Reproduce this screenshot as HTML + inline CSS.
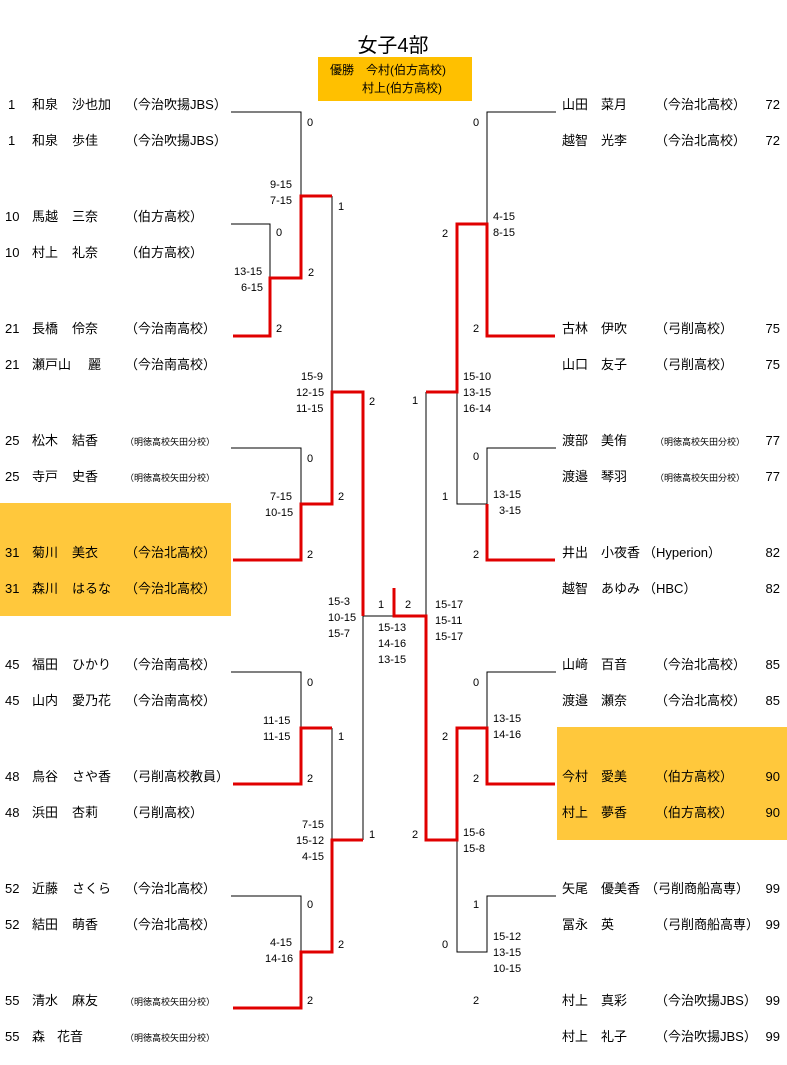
<!DOCTYPE html>
<html><head><meta charset="utf-8"><style>
body{margin:0;background:#fff;}
svg{display:block;font-family:"Liberation Sans","Noto Sans CJK JP",sans-serif;}
.n{font-size:13px;fill:#000}
.s{font-size:11px;fill:#000}
.k{stroke:#000;stroke-width:1;fill:none}
.r{stroke:#e00000;stroke-width:3;fill:none}
</style></head><body>
<svg width="787" height="1065" viewBox="0 0 787 1065">
<rect x="0" y="503" width="231" height="113" fill="#ffc83c"/>
<rect x="557" y="727" width="230" height="113" fill="#ffc83c"/>
<text x="393" y="52" font-size="20" text-anchor="middle">女子4部</text>
<rect x="318" y="57" width="154" height="44" fill="#ffc000"/>
<text x="330" y="74" font-size="12">優勝　今村(伯方高校)</text>
<text x="362" y="92" font-size="12">村上(伯方高校)</text>

<!-- left names -->
<g class="n">
<text x="8" y="109">1</text><text x="32" y="109">和泉</text><text x="72" y="109">沙也加</text><text x="125" y="109">（今治吹揚JBS）</text>
<text x="8" y="145">1</text><text x="32" y="145">和泉</text><text x="72" y="145">歩佳</text><text x="125" y="145">（今治吹揚JBS）</text>
<text x="5" y="221">10</text><text x="32" y="221">馬越</text><text x="72" y="221">三奈</text><text x="125" y="221">（伯方高校）</text>
<text x="5" y="257">10</text><text x="32" y="257">村上</text><text x="72" y="257">礼奈</text><text x="125" y="257">（伯方高校）</text>
<text x="5" y="333">21</text><text x="32" y="333">長橋</text><text x="72" y="333">伶奈</text><text x="125" y="333">（今治南高校）</text>
<text x="5" y="369">21</text><text x="32" y="369">瀬戸山</text><text x="88" y="369">麗</text><text x="125" y="369">（今治南高校）</text>
<text x="5" y="445">25</text><text x="32" y="445">松木</text><text x="72" y="445">結香</text><text x="125" y="445" font-size="9">（明徳高校矢田分校）</text>
<text x="5" y="481">25</text><text x="32" y="481">寺戸</text><text x="72" y="481">史香</text><text x="125" y="481" font-size="9">（明徳高校矢田分校）</text>
<text x="5" y="557">31</text><text x="32" y="557">菊川</text><text x="72" y="557">美衣</text><text x="125" y="557">（今治北高校）</text>
<text x="5" y="593">31</text><text x="32" y="593">森川</text><text x="72" y="593">はるな</text><text x="125" y="593">（今治北高校）</text>
<text x="5" y="669">45</text><text x="32" y="669">福田</text><text x="72" y="669">ひかり</text><text x="125" y="669">（今治南高校）</text>
<text x="5" y="705">45</text><text x="32" y="705">山内</text><text x="72" y="705">愛乃花</text><text x="125" y="705">（今治南高校）</text>
<text x="5" y="781">48</text><text x="32" y="781">鳥谷</text><text x="72" y="781">さや香</text><text x="125" y="781">（弓削高校教員）</text>
<text x="5" y="817">48</text><text x="32" y="817">浜田</text><text x="72" y="817">杏莉</text><text x="125" y="817">（弓削高校）</text>
<text x="5" y="893">52</text><text x="32" y="893">近藤</text><text x="72" y="893">さくら</text><text x="125" y="893">（今治北高校）</text>
<text x="5" y="929">52</text><text x="32" y="929">結田</text><text x="72" y="929">萌香</text><text x="125" y="929">（今治北高校）</text>
<text x="5" y="1005">55</text><text x="32" y="1005">清水</text><text x="72" y="1005">麻友</text><text x="125" y="1005" font-size="9">（明徳高校矢田分校）</text>
<text x="5" y="1041">55</text><text x="32" y="1041">森</text><text x="57" y="1041">花音</text><text x="125" y="1041" font-size="9">（明徳高校矢田分校）</text>
</g>
<!-- right names -->
<g class="n">
<text x="562" y="109">山田</text><text x="601" y="109">菜月</text><text x="655" y="109">（今治北高校）</text><text x="780" y="109" text-anchor="end">72</text>
<text x="562" y="145">越智</text><text x="601" y="145">光李</text><text x="655" y="145">（今治北高校）</text><text x="780" y="145" text-anchor="end">72</text>
<text x="562" y="333">古林</text><text x="601" y="333">伊吹</text><text x="655" y="333">（弓削高校）</text><text x="780" y="333" text-anchor="end">75</text>
<text x="562" y="369">山口</text><text x="601" y="369">友子</text><text x="655" y="369">（弓削高校）</text><text x="780" y="369" text-anchor="end">75</text>
<text x="562" y="445">渡部</text><text x="601" y="445">美侑</text><text x="655" y="445" font-size="9">（明徳高校矢田分校）</text><text x="780" y="445" text-anchor="end">77</text>
<text x="562" y="481">渡邉</text><text x="601" y="481">琴羽</text><text x="655" y="481" font-size="9">（明徳高校矢田分校）</text><text x="780" y="481" text-anchor="end">77</text>
<text x="562" y="557">井出</text><text x="601" y="557">小夜香</text><text x="643" y="557">（Hyperion）</text><text x="780" y="557" text-anchor="end">82</text>
<text x="562" y="593">越智</text><text x="601" y="593">あゆみ</text><text x="643" y="593">（HBC）</text><text x="780" y="593" text-anchor="end">82</text>
<text x="562" y="669">山﨑</text><text x="601" y="669">百音</text><text x="655" y="669">（今治北高校）</text><text x="780" y="669" text-anchor="end">85</text>
<text x="562" y="705">渡邉</text><text x="601" y="705">瀬奈</text><text x="655" y="705">（今治北高校）</text><text x="780" y="705" text-anchor="end">85</text>
<text x="562" y="781">今村</text><text x="601" y="781">愛美</text><text x="655" y="781">（伯方高校）</text><text x="780" y="781" text-anchor="end">90</text>
<text x="562" y="817">村上</text><text x="601" y="817">夢香</text><text x="655" y="817">（伯方高校）</text><text x="780" y="817" text-anchor="end">90</text>
<text x="562" y="893">矢尾</text><text x="601" y="893">優美香</text><text x="645" y="893">（弓削商船高専）</text><text x="780" y="893" text-anchor="end">99</text>
<text x="562" y="929">冨永</text><text x="601" y="929">英</text><text x="655" y="929">（弓削商船高専）</text><text x="780" y="929" text-anchor="end">99</text>
<text x="562" y="1005">村上</text><text x="601" y="1005">真彩</text><text x="655" y="1005">（今治吹揚JBS）</text><text x="780" y="1005" text-anchor="end">99</text>
<text x="562" y="1041">村上</text><text x="601" y="1041">礼子</text><text x="655" y="1041">（今治吹揚JBS）</text><text x="780" y="1041" text-anchor="end">99</text>
</g>

<path class="k" d="M231 112H301V196 M231 224H270V278 M332 196V392 M231 448H301V504 M231 672H301V728 M332 728V840 M231 896H301V952 M363 616V840 M363 616H394"/>
<path class="r" d="M233 336H270V278H301V196H332 M233 560H301V504H332V392H363V616 M233 784H301V728H332 M233 1008H301V952H332V840H363"/>
<path class="k" d="M556 112H487V224 M556 448H487V504H457V392 M556 672H487V728 M556 896H487V952H457V840 M426 392V616"/>
<path class="r" d="M555 336H487V224H457V392H426 M555 560H487V504 M555 784H487V728H457V840H426V616H394V588"/>

<g class="s">
<text x="307" y="126">0</text>
<text x="270" y="188">9-15</text><text x="270" y="204">7-15</text>
<text x="338" y="210">1</text>
<text x="276" y="236">0</text>
<text x="234" y="275">13-15</text><text x="241" y="291">6-15</text>
<text x="308" y="276">2</text>
<text x="276" y="332">2</text>
<text x="301" y="380">15-9</text><text x="296" y="396">12-15</text><text x="296" y="412">11-15</text>
<text x="369" y="405">2</text>
<text x="307" y="462">0</text>
<text x="270" y="500">7-15</text><text x="265" y="516">10-15</text>
<text x="338" y="500">2</text>
<text x="307" y="558">2</text>
<text x="328" y="605">15-3</text><text x="328" y="621">10-15</text><text x="328" y="637">15-7</text>
<text x="378" y="608">1</text><text x="405" y="608">2</text>
<text x="378" y="631">15-13</text><text x="378" y="647">14-16</text><text x="378" y="663">13-15</text>
<text x="307" y="686">0</text>
<text x="263" y="724">11-15</text><text x="263" y="740">11-15</text>
<text x="338" y="740">1</text>
<text x="307" y="782">2</text>
<text x="302" y="828">7-15</text><text x="296" y="844">15-12</text><text x="302" y="860">4-15</text>
<text x="369" y="838">1</text>
<text x="307" y="908">0</text>
<text x="270" y="946">4-15</text><text x="265" y="962">14-16</text>
<text x="338" y="948">2</text>
<text x="307" y="1004">2</text>
</g>
<g class="s">
<text x="473" y="126">0</text>
<text x="493" y="220">4-15</text><text x="493" y="236">8-15</text>
<text x="442" y="237">2</text>
<text x="473" y="332">2</text>
<text x="463" y="380">15-10</text><text x="463" y="396">13-15</text><text x="463" y="412">16-14</text>
<text x="412" y="404">1</text>
<text x="473" y="460">0</text>
<text x="442" y="500">1</text>
<text x="493" y="498">13-15</text><text x="499" y="514">3-15</text>
<text x="473" y="558">2</text>
<text x="435" y="608">15-17</text><text x="435" y="624">15-11</text><text x="435" y="640">15-17</text>
<text x="473" y="686">0</text>
<text x="493" y="722">13-15</text><text x="493" y="738">14-16</text>
<text x="442" y="740">2</text>
<text x="473" y="782">2</text>
<text x="412" y="838">2</text>
<text x="463" y="836">15-6</text><text x="463" y="852">15-8</text>
<text x="473" y="908">1</text>
<text x="442" y="948">0</text>
<text x="493" y="940">15-12</text><text x="493" y="956">13-15</text><text x="493" y="972">10-15</text>
<text x="473" y="1004">2</text>
</g>
</svg>
</body></html>
